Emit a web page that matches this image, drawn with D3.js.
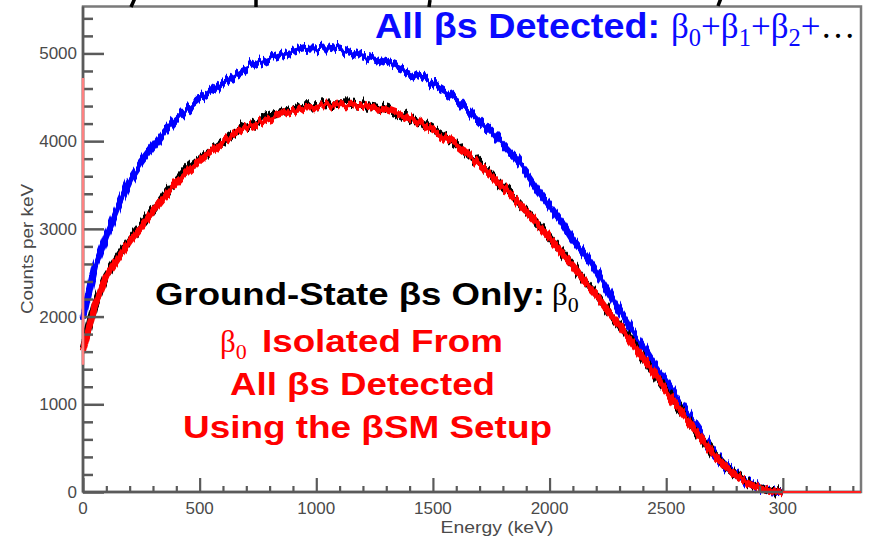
<!DOCTYPE html>
<html>
<head>
<meta charset="utf-8">
<script src="https://cdn.jsdelivr.net/npm/d3@7"></script>
<style>
  html, body { margin: 0; padding: 0; background: #fff; }
  svg { display: block; }
  text { font-family: "Liberation Sans", Arial, Helvetica, sans-serif; }
</style>
</head>
<body>
<svg id="chart" width="872" height="540"></svg>
<script>
// ---------------- data ----------------
const energies = d3.range(0, 3001, 50); // keV bin centres
const allBetas = [1980,2560,2910,3240,3540,3745,3920,4100,4255,4370,4480,4570,4670,4760,4830,4890,4945,4990,5025,5055,
  5065,5075,5050,5010,4970,4935,4895,4840,4785,4730,4650,4570,4480,4365,4240,4110,3960,3820,3650,3450,
  3270,3090,2875,2710,2520,2300,2070,1850,1650,1440,1245,1040,850,655,470,310,200,110,45,15,0];
const groundState = [1640,2140,2480,2690,2880,3045,3215,3395,3550,3690,3800,3910,4010,4100,4170,4230,4285,4330,4370,4405,
  4410,4425,4430,4425,4415,4395,4370,4325,4270,4210,4130,4050,3960,3855,3745,3625,3490,3355,3210,3060,
  2905,2740,2585,2400,2255,2070,1905,1725,1535,1345,1155,965,795,620,445,305,195,105,42,13,0];
const isolated = [1620,2120,2460,2660,2860,3020,3200,3370,3535,3665,3785,3890,3990,4080,4150,4210,4260,4305,4345,4385,
  4390,4405,4415,4413,4400,4380,4356,4310,4260,4200,4120,4040,3950,3845,3735,3620,3480,3345,3200,3050,
  2900,2730,2580,2390,2250,2060,1900,1720,1530,1340,1150,960,790,615,440,300,190,100,40,12,0];
const isolatedFirstBinEdge = [1450, 4720]; // red vertical edge at E = 0
const isolatedTail = [[3000, 0], [3335, 0]];

const xMajorTicks = [0, 500, 1000, 1500, 2000, 2500, 3000];
const xTickLabels = ["0", "500", "1000", "1500", "2000", "2500", "300"];
const yMajorTicks = [0, 1000, 2000, 3000, 4000, 5000];
const yTickLabels = ["0", "1000", "2000", "3000", "4000", "5000"];

// ---------------- layout ----------------
const svg = d3.select("#chart");
const x = d3.scaleLinear().domain([0, 3335]).range([83, 861]);
const y = d3.scaleLinear().domain([0, 5535]).range([492, 6.5]);
const axisColor = "#5a5a5a";

// roughening filter for the histogram bands (style only): vertical jitter per column
const defs = svg.append("defs");
function roughFilter(id, seed, amp) {
  const f = defs.append("filter").attr("id", id)
    .attr("filterUnits", "userSpaceOnUse").attr("x", 0).attr("y", 0).attr("width", 872).attr("height", 540);
  f.append("feTurbulence").attr("type", "fractalNoise").attr("baseFrequency", "0.35 0.004")
    .attr("numOctaves", 2).attr("seed", seed).attr("result", "n");
  f.append("feColorMatrix").attr("in", "n").attr("type", "matrix")
    .attr("values", "0 0 0 0 0.5  0 1 0 0 0  0 0 0 0 0  0 0 0 0 1").attr("result", "m");
  f.append("feDisplacementMap").attr("in", "SourceGraphic").attr("in2", "m").attr("scale", amp)
    .attr("xChannelSelector", "R").attr("yChannelSelector", "G");
}
roughFilter("roughB", 3, 16);
roughFilter("roughK", 7, 16);
roughFilter("roughR", 11, 12);

// frame
svg.append("rect")
  .attr("x", x(0)).attr("y", y(5535))
  .attr("width", x(3335) - x(0)).attr("height", y(0) - y(5535))
  .attr("fill", "none").attr("stroke", "#7a7a7a").attr("stroke-width", 2.5);

// fragments of the cropped title above the frame
const titleFragments = [[135, -2, 131, 7], [256, 0, 256, 7], [430, 0, 429, 7], [721, -2, 718, 6]];
svg.append("g").selectAll("line").data(titleFragments).join("line")
  .attr("x1", d => d[0]).attr("y1", d => d[1]).attr("x2", d => d[2]).attr("y2", d => d[3])
  .attr("stroke", "#000").attr("stroke-width", 3.5);

// data lines
const line = d3.line().x((d, i) => x(energies[i])).y(d => y(d));
const gData = svg.append("g");
gData.append("path").datum(allBetas).attr("d", line).attr("filter", "url(#roughB)")
  .attr("fill", "none").attr("stroke", "#0000ff").attr("stroke-width", 7).attr("stroke-linejoin", "round");
gData.append("path").datum(groundState).attr("d", line).attr("filter", "url(#roughK)")
  .attr("fill", "none").attr("stroke", "#000").attr("stroke-width", 6.5).attr("stroke-linejoin", "round");
gData.append("path").datum(isolated).attr("d", line).attr("filter", "url(#roughR)")
  .attr("fill", "none").attr("stroke", "#ff0000").attr("stroke-width", 6.5).attr("stroke-linejoin", "round");

// axes: y (left) with inward ticks
const yAxis = d3.axisRight(y).tickValues(yMajorTicks).tickSize(21).tickFormat("");
const yMinor = d3.axisRight(y).tickValues(d3.range(0, 5401, 200).filter(v => v % 1000 !== 0)).tickSize(10).tickFormat("");
const gy = svg.append("g").attr("transform", `translate(${x(0)},0)`).call(yAxis);
const gy2 = svg.append("g").attr("transform", `translate(${x(0)},0)`).call(yMinor);
[gy, gy2].forEach(g => {
  g.select(".domain").remove();
  g.selectAll("line").attr("stroke", axisColor).attr("stroke-width", 2.5);
});
// x (bottom) with inward ticks
const xAxis = d3.axisTop(x).tickValues(xMajorTicks).tickSize(14).tickFormat("");
const xMinor = d3.axisTop(x).tickValues(d3.range(0, 3301, 100).filter(v => v % 500 !== 0)).tickSize(6).tickFormat("");
const gx = svg.append("g").attr("transform", `translate(0,${y(0)})`).call(xAxis);
const gx2 = svg.append("g").attr("transform", `translate(0,${y(0)})`).call(xMinor);
[gx, gx2].forEach(g => {
  g.select(".domain").remove();
  g.selectAll("line").attr("stroke", axisColor).attr("stroke-width", 2.2);
});
// axis lines
svg.append("line").attr("x1", x(0)).attr("x2", x(0)).attr("y1", y(5535)).attr("y2", y(0))
  .attr("stroke", axisColor).attr("stroke-width", 2.5);
svg.append("line").attr("x1", x(0)).attr("x2", x(3335)).attr("y1", y(0)).attr("y2", y(0))
  .attr("stroke", axisColor).attr("stroke-width", 2.5);
// red first-bin edge, drawn over the left axis
svg.append("line")
  .attr("x1", x(0)).attr("x2", x(0))
  .attr("y1", y(isolatedFirstBinEdge[0])).attr("y2", y(isolatedFirstBinEdge[1]))
  .attr("stroke", "#ff8080").attr("stroke-width", 2.5);
// red tail on top of axis line
svg.append("path").datum(isolatedTail)
  .attr("d", d3.line().x(d => x(d[0])).y(d => y(d[1])))
  .attr("fill", "none").attr("stroke", "#ff2020").attr("stroke-width", 1.8);

// tick labels
svg.append("g").selectAll("text").data(yMajorTicks).join("text")
  .attr("x", 77).attr("y", d => y(d) + 6)
  .attr("text-anchor", "end").attr("font-size", 17).attr("fill", "#4a4a4a")
  .text((d, i) => yTickLabels[i]);
svg.append("g").selectAll("text").data(xMajorTicks).join("text")
  .attr("x", d => x(d)).attr("y", 514)
  .attr("text-anchor", "middle").attr("font-size", 17).attr("fill", "#4a4a4a")
  .text((d, i) => xTickLabels[i]);

// axis titles
svg.append("text").attr("x", 497).attr("y", 533).attr("text-anchor", "middle")
  .attr("font-size", 16).attr("fill", "#4a4a4a")
  .attr("textLength", 113).attr("lengthAdjust", "spacingAndGlyphs")
  .text("Energy (keV)");
svg.append("text").attr("transform", "translate(33,249) rotate(-90)").attr("text-anchor", "middle")
  .attr("font-size", 17).attr("fill", "#4a4a4a")
  .attr("textLength", 130).attr("lengthAdjust", "spacingAndGlyphs")
  .text("Counts per keV");

// ---------------- annotations ----------------
const serif = '"Liberation Serif", "Times New Roman", serif';

// top blue label
svg.append("text").attr("x", 375).attr("y", 38)
  .attr("font-size", 35).attr("font-weight", "bold").attr("fill", "#0a0aff")
  .attr("textLength", 285).attr("lengthAdjust", "spacingAndGlyphs")
  .text("All βs Detected:");
{
  const t = svg.append("text").attr("x", 671).attr("y", 38)
    .attr("font-size", 35).attr("fill", "#0a0aff").style("font-family", serif);
  const fs = 35;
  const seq = [["β",0],["0",1],["+",-1],["β",0],["1",1],["+",-1],["β",0],["2",1],["+",-1]];
  seq.forEach(([s, k]) => {
    const ts = t.append("tspan").text(s);
    if (k === 1) ts.attr("font-size", fs * 0.7).attr("dy", fs * 0.22);
    else if (k === -1) ts.attr("dy", -fs * 0.22);
  });
  t.append("tspan").text("…").attr("fill", "#000");
}

// black label
svg.append("text").attr("x", 155).attr("y", 305)
  .attr("font-size", 31).attr("font-weight", "bold").attr("fill", "#000")
  .attr("textLength", 390).attr("lengthAdjust", "spacingAndGlyphs")
  .text("Ground-State βs Only:");
{
  const t = svg.append("text").attr("x", 552).attr("y", 305)
    .attr("font-size", 31).attr("fill", "#000").style("font-family", serif);
  t.append("tspan").text("β");
  t.append("tspan").text("0").attr("font-size", 22).attr("dy", 7);
}

// red labels
{
  const t = svg.append("text").attr("x", 220).attr("y", 352)
    .attr("font-size", 31).attr("fill", "#ff0000").style("font-family", serif);
  t.append("tspan").text("β");
  t.append("tspan").text("0").attr("font-size", 22).attr("dy", 7);
}
svg.append("text").attr("x", 262).attr("y", 352)
  .attr("font-size", 31).attr("font-weight", "bold").attr("fill", "#ff0000")
  .attr("textLength", 241).attr("lengthAdjust", "spacingAndGlyphs")
  .text("Isolated From");
svg.append("text").attr("x", 230).attr("y", 395)
  .attr("font-size", 31).attr("font-weight", "bold").attr("fill", "#ff0000")
  .attr("textLength", 265).attr("lengthAdjust", "spacingAndGlyphs")
  .text("All βs Detected");
svg.append("text").attr("x", 183).attr("y", 438)
  .attr("font-size", 31).attr("font-weight", "bold").attr("fill", "#ff0000")
  .attr("textLength", 369).attr("lengthAdjust", "spacingAndGlyphs")
  .text("Using the βSM Setup");
</script>
</body>
</html>
